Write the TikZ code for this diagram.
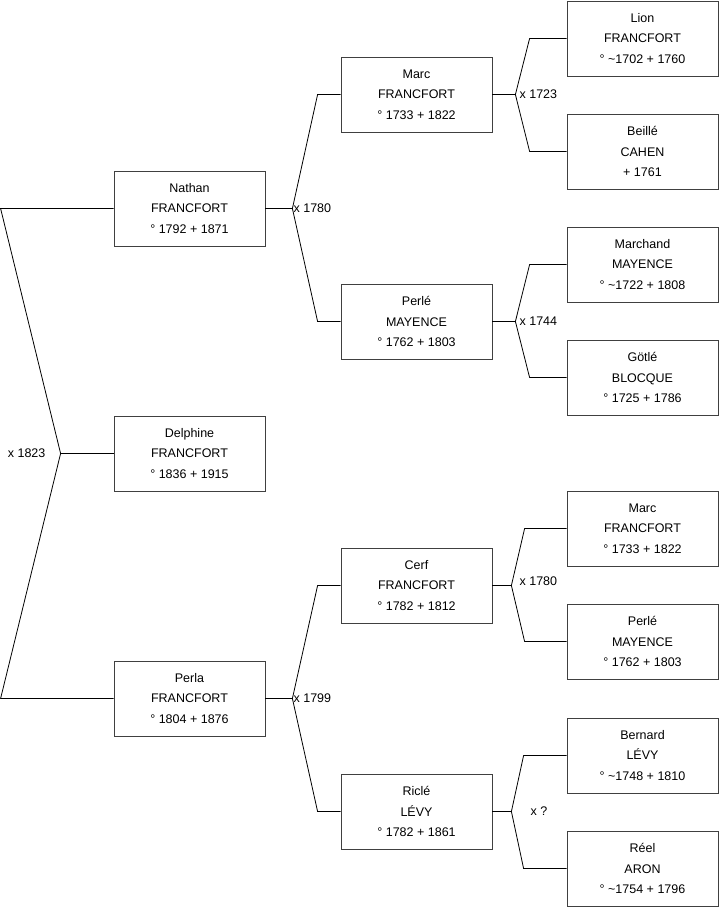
\documentclass[tikz,border=0pt]{standalone}
\usepackage{fontspec}
\setmainfont{Liberation Sans}
\usetikzlibrary{positioning,calc}
\begin{document}
\begin{tikzpicture}[x=1pt,y=-1pt,
	personne/.style={draw=black!75,line width=0.8pt,minimum width=151pt,
		minimum height=75pt,inner sep=0pt,align=center,
		font=\fontsize{12.5}{20.5}\selectfont},
	lien/.style={black,line width=0.8pt},
	union/.style={right,inner sep=1pt,font=\fontsize{12.5}{15}\selectfont}]
	\def \colA{189.5}
	\def \colB{416.5}
	\def \colC{642.5}
	\useasboundingbox (0,0) rectangle (719,908);
	% Génération 1
	\node[personne] (delphine) at (\colA,453.5) {Delphine\\FRANCFORT\\° 1836 + 1915};
	% Génération 2
	\node[personne] (nathan) at (\colA,208.5) {Nathan\\FRANCFORT\\° 1792 + 1871};
	\node[personne] (perla) at (\colA,698.5) {Perla\\FRANCFORT\\° 1804 + 1876};
	% Génération 3
	\node[personne] (marcA) at (\colB,94.5) {Marc\\FRANCFORT\\° 1733 + 1822};
	\node[personne] (perleA) at (\colB,321.5) {Perlé\\MAYENCE\\° 1762 + 1803};
	\node[personne] (cerf) at (\colB,585.5) {Cerf\\FRANCFORT\\° 1782 + 1812};
	\node[personne] (ricle) at (\colB,811.5) {Riclé\\LÉVY\\° 1782 + 1861};
	% Génération 4
	\node[personne] (lion) at (\colC,38.5) {Lion\\FRANCFORT\\° \textasciitilde1702 + 1760};
	\node[personne] (beille) at (\colC,151.5) {Beillé\\CAHEN\\+ 1761};
	\node[personne] (marchand) at (\colC,264.5) {Marchand\\MAYENCE\\° \textasciitilde1722 + 1808};
	\node[personne] (gotle) at (\colC,377.5) {Götlé\\BLOCQUE\\° 1725 + 1786};
	\node[personne] (marcB) at (\colC,528.5) {Marc\\FRANCFORT\\° 1733 + 1822};
	\node[personne] (perleB) at (\colC,641.5) {Perlé\\MAYENCE\\° 1762 + 1803};
	\node[personne] (bernard) at (\colC,755.5) {Bernard\\LÉVY\\° \textasciitilde1748 + 1810};
	\node[personne] (reel) at (\colC,868.5) {Réel\\ARON\\° \textasciitilde1754 + 1796};
	% Mariages
	\draw[lien] (delphine.west) -- ++(-53,0) coordinate (m0);
	\draw[lien] (nathan.west) -- ++(-113,0) -- (m0) -- ($(perla.west)+(-113,0)$) -- (perla.west);
	\node[left,inner sep=1pt,font=\fontsize{12.5}{15}\selectfont] at ($(m0)+(-14,0)$) {x 1823};
	\draw[lien] (nathan.east) -- ++(27,0) coordinate (m1);
	\draw[lien] (marcA.west) -- ++(-23,0) -- (m1) -- ($(perleA.west)+(-23,0)$) -- (perleA.west);
	\node[union] at (m1) {x 1780};
	\draw[lien] (perla.east) -- ++(27,0) coordinate (m2);
	\draw[lien] (cerf.west) -- ++(-23,0) -- (m2) -- ($(ricle.west)+(-23,0)$) -- (ricle.west);
	\node[union] at (m2) {x 1799};
	\draw[lien] (marcA.east) -- ++(23,0) coordinate (m3);
	\draw[lien] (lion.west) -- ++(-37,0) -- (m3) -- ($(beille.west)+(-37,0)$) -- (beille.west);
	\node[union] at ($(m3)+(3,0)$) {x 1723};
	\draw[lien] (perleA.east) -- ++(23,0) coordinate (m4);
	\draw[lien] (marchand.west) -- ++(-37,0) -- (m4) -- ($(gotle.west)+(-37,0)$) -- (gotle.west);
	\node[union] at ($(m4)+(3,0)$) {x 1744};
	\draw[lien] (cerf.east) -- ++(19,0) coordinate (m5);
	\draw[lien] (marcB.west) -- ++(-42,0) -- (m5) -- ($(perleB.west)+(-42,0)$) -- (perleB.west);
	\node[union] at ($(m5)+(7,-4)$) {x 1780};
	\draw[lien] (ricle.east) -- ++(19,0) coordinate (m6);
	\draw[lien] (bernard.west) -- ++(-43,0) -- (m6) -- ($(reel.west)+(-43,0)$) -- (reel.west);
	\node[union] at ($(m6)+(18,0)$) {x ?};
\end{tikzpicture}
\end{document}
